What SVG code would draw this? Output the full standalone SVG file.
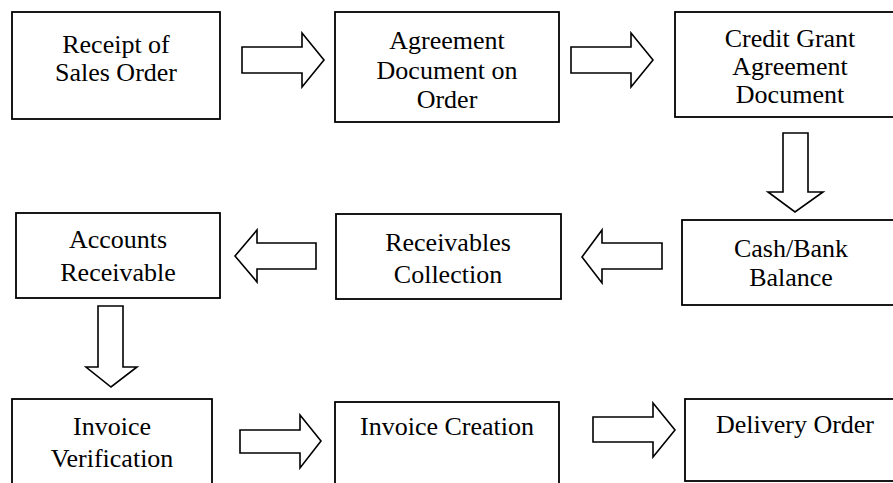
<svg xmlns="http://www.w3.org/2000/svg" width="893" height="483" viewBox="0 0 893 483">
<style>
.box{fill:#fff;stroke:#000;stroke-width:1.8}
.arr{fill:#fff;stroke:#000;stroke-width:1.6;stroke-linejoin:miter}
.t{font-family:'Liberation Serif',Tinos,'Times New Roman','DejaVu Serif',serif;font-size:26px;fill:#000;text-anchor:middle}
</style>
<rect width="893" height="483" fill="#fff"/>
<g id="connectors">
<polygon class="arr" points="242,47 302,47 302,33 324,60 302,87 302,73 242,73"/>
<polygon class="arr" points="571,47 631,47 631,33 653,60 631,87 631,73 571,73"/>
<polygon class="arr" points="783,133 808,133 808,192 823,192 795,212 768,192 783,192"/>
<polygon class="arr" points="662,243 602,243 602,230 582,257 602,283 602,269 662,269"/>
<polygon class="arr" points="316,243 257,243 257,230 235,256 257,282 257,269 316,269"/>
<polygon class="arr" points="98,306 123,306 123,367 137,367 111,387 86,367 98,367"/>
<polygon class="arr" points="240,430 300,430 300,415 321,441 300,468 300,453 240,453"/>
<polygon class="arr" points="593,417 653,417 653,403 675,430 653,457 653,442 593,442"/>
</g>
<g id="n1"><rect class="box" x="12" y="12" width="208" height="107"/><text class="t" font-family="Liberation Serif" x="116" y="53">Receipt of</text><text class="t" x="116" y="81">Sales Order</text></g>
<g id="n2"><rect class="box" x="335" y="12" width="224" height="110"/><text class="t" x="447" y="49">Agreement</text><text class="t" x="447" y="79">Document on</text><text class="t" x="447" y="108">Order</text></g>
<g id="n3"><rect class="box" x="675" y="12" width="230" height="105"/><text class="t" x="790" y="47">Credit Grant</text><text class="t" x="790" y="75">Agreement</text><text class="t" x="790" y="103">Document</text></g>
<g id="n4"><rect class="box" x="16" y="213" width="204" height="85"/><text class="t" x="118" y="248">Accounts</text><text class="t" x="118" y="281">Receivable</text></g>
<g id="n5"><rect class="box" x="336" y="214" width="225" height="85"/><text class="t" x="448" y="251">Receivables</text><text class="t" x="448" y="283">Collection</text></g>
<g id="n6"><rect class="box" x="682" y="220" width="223" height="85"/><text class="t" x="791" y="257">Cash/Bank</text><text class="t" x="791" y="286">Balance</text></g>
<g id="n7"><rect class="box" x="12" y="399" width="200" height="100"/><text class="t" x="112" y="435">Invoice</text><text class="t" x="112" y="467">Verification</text></g>
<g id="n8"><rect class="box" x="335" y="402" width="224" height="100"/><text class="t" x="447" y="435">Invoice Creation</text></g>
<g id="n9"><rect class="box" x="685" y="399" width="220" height="82"/><text class="t" x="795" y="433">Delivery Order</text></g>
</svg>
